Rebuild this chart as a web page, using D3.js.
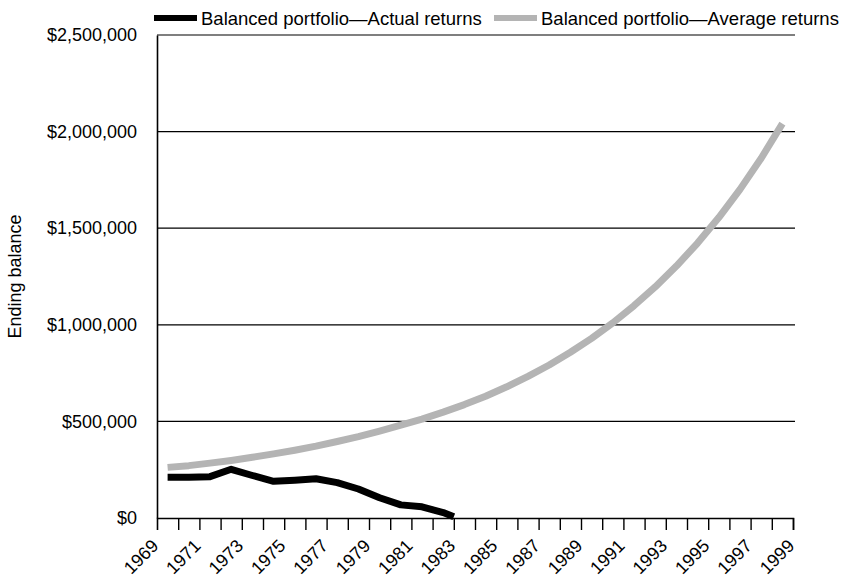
<!DOCTYPE html>
<html>
<head>
<meta charset="utf-8">
<script src="https://cdn.jsdelivr.net/npm/d3@7"></script>
<style>
  body { margin: 0; background: #fff; }
  svg { display: block; }
  text { font-family: "Liberation Sans", Arial, Helvetica, sans-serif; fill: #000; }
</style>
</head>
<body>
<svg id="chart" width="844" height="577"></svg>
<script>
// Series labels
const seriesNames = ["Balanced portfolio\u2014Actual returns", "Balanced portfolio\u2014Average returns"];
const seriesColors = ["#000000", "#b4b4b4"];

// Year-by-year ending balances, plotted at mid-year
const actualYears = [1969, 1970, 1971, 1972, 1973, 1974, 1975, 1976, 1977, 1978, 1979, 1980, 1981, 1982];
const actualBalances = [211000, 211000, 214000, 252000, 220000, 190000, 196000, 203000, 183000, 150000, 105000, 68000, 58000, 28000];
// Portfolio runs dry at the start of 1983
const depletionYear = 1983;
const depletionBalance = 6000;

const averageYears = [1969, 1970, 1971, 1972, 1973, 1974, 1975, 1976, 1977, 1978,
                      1979, 1980, 1981, 1982, 1983, 1984, 1985, 1986, 1987, 1988,
                      1989, 1990, 1991, 1992, 1993, 1994, 1995, 1996, 1997, 1998];
const averageBalances = [262000, 271000, 284000, 298000, 314000, 332000, 351000, 372000, 396000, 421000,
                         450000, 481000, 512000, 548000, 587000, 630000, 679000, 733000, 792000, 858000,
                         930000, 1010000, 1099000, 1196000, 1304000, 1423000, 1555000, 1701000, 1862000, 2041000];

// Axis ticks
const yTicks = [0, 500000, 1000000, 1500000, 2000000, 2500000];
const xTicks = [1969, 1970, 1971, 1972, 1973, 1974, 1975, 1976, 1977, 1978, 1979, 1980, 1981, 1982, 1983, 1984,
                1985, 1986, 1987, 1988, 1989, 1990, 1991, 1992, 1993, 1994, 1995, 1996, 1997, 1998, 1999];
const xTickLabels = [1969, 1971, 1973, 1975, 1977, 1979, 1981, 1983, 1985, 1987, 1989, 1991, 1993, 1995, 1997, 1999];
const yTitle = "Ending balance";

const svg = d3.select("#chart");
const plot = { left: 157, right: 793, top: 35, bottom: 518, gridRight: 795 };

const x = d3.scaleLinear().domain([1969, 1999]).range([plot.left, plot.right]);
const y = d3.scaleLinear().domain([0, 2500000]).range([plot.bottom, plot.top]);

// Horizontal gridlines
svg.append("g")
  .selectAll("line")
  .data(yTicks.filter(d => d > 0))
  .join("line")
  .attr("x1", plot.left).attr("x2", plot.gridRight)
  .attr("y1", d => y(d)).attr("y2", d => y(d))
  .attr("stroke", "#000").attr("stroke-width", 1.2);

// Y axis
const yAxis = svg.append("g")
  .attr("transform", `translate(${plot.left},0)`)
  .call(d3.axisLeft(y).tickValues(yTicks).tickSize(0).tickPadding(20)
    .tickFormat(d => "$" + d3.format(",")(d)));
yAxis.select(".domain").attr("stroke", "#000").attr("stroke-width", 1.6);
yAxis.selectAll("text").attr("font-size", 18).attr("fill", "#000");

// X axis
const xAxis = svg.append("g")
  .attr("transform", `translate(0,${plot.bottom})`)
  .call(d3.axisBottom(x).tickValues(xTicks).tickSize(12)
    .tickFormat(d => xTickLabels.includes(d) ? String(d) : ""));
xAxis.select(".domain").attr("stroke", "#000").attr("stroke-width", 1.6);
xAxis.selectAll(".tick line").attr("stroke", "#000").attr("stroke-width", 1.4);
xAxis.selectAll(".tick").filter(d => d === 1969).select("line").remove();
xAxis.selectAll("text")
  .attr("font-size", 18).attr("fill", "#000")
  .attr("text-anchor", "end")
  .attr("x", 0).attr("y", 0).attr("dy", 0)
  .attr("transform", "translate(2,29) rotate(-45)");

// Y axis title
svg.append("text")
  .attr("transform", `translate(21,${(plot.top + plot.bottom) / 2}) rotate(-90)`)
  .attr("text-anchor", "middle")
  .attr("font-size", 18)
  .text(yTitle);

// Lines
const line = d3.line().x(d => x(d.year)).y(d => y(d.value));

const averagePoints = averageYears.map((yr, i) => ({ year: yr + 0.5, value: averageBalances[i] }));
const actualPoints = actualYears.map((yr, i) => ({ year: yr + 0.5, value: actualBalances[i] }))
  .concat([{ year: depletionYear, value: depletionBalance }]);

svg.append("path")
  .datum(averagePoints)
  .attr("d", line)
  .attr("fill", "none")
  .attr("stroke", seriesColors[1])
  .attr("stroke-width", 7)
  .attr("stroke-linejoin", "round");

svg.append("path")
  .datum(actualPoints)
  .attr("d", line)
  .attr("fill", "none")
  .attr("stroke", seriesColors[0])
  .attr("stroke-width", 7)
  .attr("stroke-linejoin", "round");

// Legend
const legendItems = [
  { name: seriesNames[0], color: seriesColors[0], x: 154 },
  { name: seriesNames[1], color: seriesColors[1], x: 494 }
];
const legend = svg.append("g").selectAll("g").data(legendItems).join("g")
  .attr("transform", d => `translate(${d.x},0)`);
legend.append("rect")
  .attr("x", 0).attr("y", 15).attr("width", 43).attr("height", 6)
  .attr("fill", d => d.color);
legend.append("text")
  .attr("x", 47).attr("y", 24.5)
  .attr("font-size", 18.5)
  .text(d => d.name);
</script>
</body>
</html>
